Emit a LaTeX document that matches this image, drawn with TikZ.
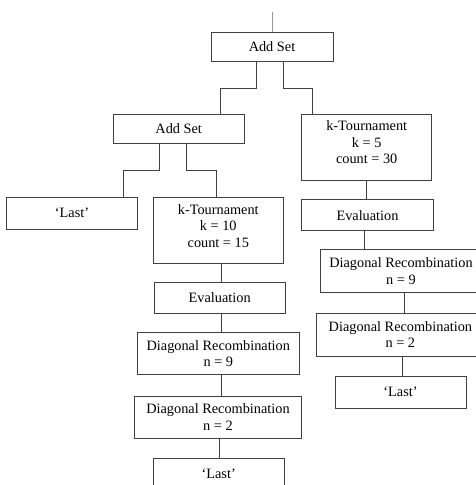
\documentclass[tikz,border=0pt]{standalone}
\usepackage{fontspec}
\setmainfont{Liberation Serif}
\definecolor{edge}{RGB}{64,64,64}
\definecolor{feed}{RGB}{150,150,150}
\tikzset{
  opbox/.style={draw=edge, line width=1pt, fill=white, inner sep=0pt, align=center,
    font=\fontsize{14.3}{16.6}\selectfont},
  link/.style={draw=edge, line width=1pt}
}
% three-line label set slightly above the box centre
\newcommand{\liftlines}[1]{\raisebox{3pt}[\height][\depth]{\begin{tabular}{@{}c@{}}#1\end{tabular}}}
\begin{document}
\begin{tikzpicture}[x=1pt,y=-1pt]
  \clip (0,0) rectangle (476,485);
  % boxes: centre, width, height
  \node[opbox, minimum width=122pt, minimum height=29pt]   (topset) at (272,47)    {Add Set};
  \node[opbox, minimum width=130.7pt, minimum height=29.7pt] (addset2) at (178.7,128.9) {Add Set};
  \node[opbox, minimum width=130pt, minimum height=66pt]   (ktR)    at (366.7,147)  {\liftlines{k-Tournament\\k = 5\\count = 30}};
  \node[opbox, minimum width=130.6pt, minimum height=31.7pt] (lastL) at (72,213.2)   {‘Last’};
  \node[opbox, minimum width=130pt, minimum height=66pt]   (ktL)    at (218.3,230.3) {\liftlines{k-Tournament\\k = 10\\count = 15}};
  \node[opbox, minimum width=130.7pt, minimum height=30.6pt] (evalL) at (219.7,298)  {Evaluation};
  \node[opbox, minimum width=162pt, minimum height=42.3pt] (diag9L) at (218.3,353.8) {Diagonal Recombination\\n = 9};
  \node[opbox, minimum width=167.4pt, minimum height=42.3pt] (diag2L) at (218,417.2) {Diagonal Recombination\\n = 2};
  \node[opbox, minimum width=130.7pt, minimum height=31.7pt] (lastB) at (218.7,474.2) {‘Last’};
  \node[opbox, minimum width=131.6pt, minimum height=30.7pt] (evalR) at (367.5,215.3) {Evaluation};
  \node[opbox, minimum width=162pt, minimum height=42.7pt] (diag9R) at (401,271.3)   {Diagonal Recombination\\n = 9};
  \node[opbox, minimum width=167.4pt, minimum height=42.7pt] (diag2R) at (400.4,334.7) {Diagonal Recombination\\n = 2};
  \node[opbox, minimum width=131pt, minimum height=32.3pt] (lastR)  at (400.5,392.2) {‘Last’};

  % incoming feed
  \coordinate (feedtop) at (272.7,12);
  \draw[draw=feed, line width=1pt] (feedtop) -- (feedtop |- topset.north);

  % branching connectors
  \draw[link] ([xshift=-15.3pt]topset.south) -- ++(0,26.5) -| ([xshift=42pt]addset2.north);
  \draw[link] ([xshift=11.3pt]topset.south) -- ++(0,26.5) -| ([xshift=-54pt]ktR.north);
  \draw[link] ([xshift=-19.7pt]addset2.south) -- ++(0,26.3) -| ([xshift=51.3pt]lastL.north);
  \draw[link] ([xshift=7.3pt]addset2.south) -- ++(0,26.3) -| ([xshift=-2.3pt]ktL.north);

  % straight chains
  \draw[link] ([xshift=2.7pt]ktL.south) coordinate (a1) -- (a1 |- evalL.north);
  \draw[link] ([xshift=1.3pt]evalL.south) coordinate (a2) -- (a2 |- diag9L.north);
  \draw[link] ([xshift=2.7pt]diag9L.south) coordinate (a3) -- (a3 |- diag2L.north);
  \draw[link] ([xshift=1.3pt]diag2L.south) coordinate (a4) -- (a4 |- lastB.north);
  \draw[link] ([xshift=-0.7pt]ktR.south) coordinate (b1) -- (b1 |- evalR.north);
  \draw[link] ([xshift=-3.5pt]evalR.south) coordinate (b2) -- (b2 |- diag9R.north);
  \draw[link] ([xshift=3pt]diag9R.south) coordinate (b3) -- (b3 |- diag2R.north);
  \draw[link] ([xshift=1.9pt]diag2R.south) coordinate (b4) -- (b4 |- lastR.north);
\end{tikzpicture}
\end{document}
